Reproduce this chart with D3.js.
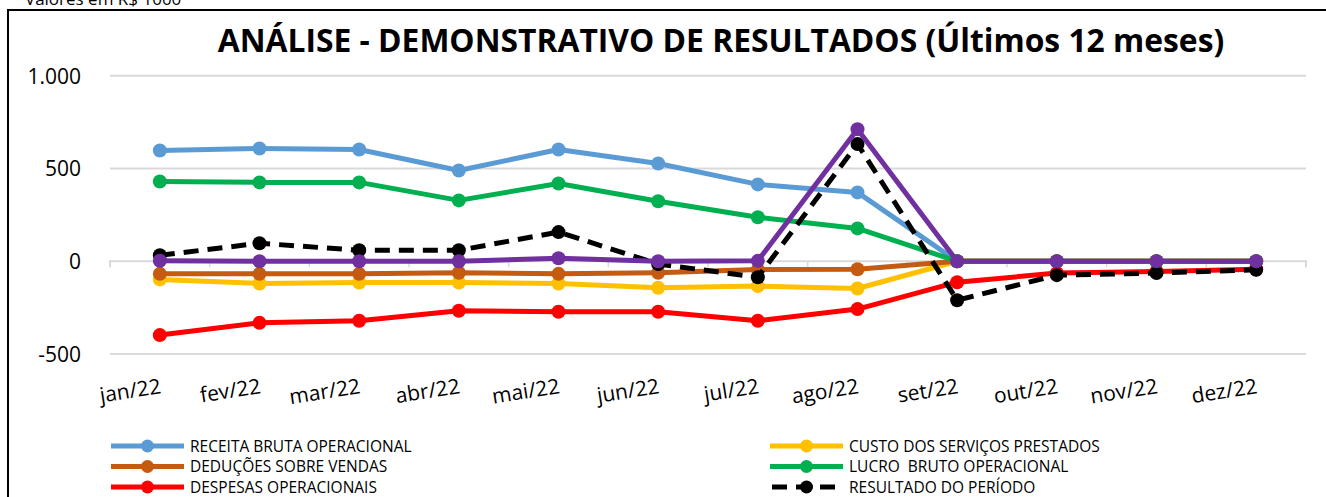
<!DOCTYPE html>
<html>
<head>
<meta charset="utf-8">
<script src="https://cdn.jsdelivr.net/npm/d3@7"></script>
<style>
  html, body { margin: 0; padding: 0; background: #fff; }
  svg { display: block; }
  text { font-family: "Open Sans", "Liberation Sans", sans-serif; fill: #000; white-space: pre; }
</style>
</head>
<body>
<svg id="chart" width="1326" height="497"></svg>
<script>
const months = ["jan/22","fev/22","mar/22","abr/22","mai/22","jun/22","jul/22","ago/22","set/22","out/22","nov/22","dez/22"];
const yTicks = [-500, 0, 500, 1000];

const receitaBruta   = [597, 608, 602, 489, 602, 527, 414, 371, 0, 0, 0, 0];
const custoServicos  = [-98, -120, -115, -115, -120, -143, -134, -147, 0, 0, 0, 0];
const deducoesVendas = [-68, -68, -68, -62, -68, -62, -45, -43, 0, 0, 0, 0];
const lucroBruto     = [430, 425, 425, 328, 419, 323, 237, 177, 0, 0, 0, 0];
const despesasOper   = [-398, -332, -321, -267, -272, -272, -321, -258, -113, -64, -55, -43];
const resultadoPer   = [32, 97, 59, 59, 157, -15, -86, 632, -210, -75, -64, -46];
const lucroLiquido   = [3, 0, 0, 0, 16, 0, 2, 712, 0, 0, 0, 0];

const seriesNames  = ["RECEITA BRUTA OPERACIONAL", "CUSTO DOS SERVIÇOS PRESTADOS", "DEDUÇÕES SOBRE VENDAS", "LUCRO  BRUTO OPERACIONAL", "DESPESAS OPERACIONAIS", "RESULTADO DO PERÍODO", "LUCRO LÍQUIDO"];
const seriesValues = [receitaBruta, custoServicos, deducoesVendas, lucroBruto, despesasOper, resultadoPer, lucroLiquido];
const seriesColors = ["#5B9BD5", "#FFC000", "#C55A11", "#00B050", "#FF0000", "#000000", "#7030A0"];
const seriesDashed = [false, false, false, false, false, true, false];

const svg = d3.select("#chart");

// outer border (chart area, extends past right/bottom edges)
svg.append("rect").attr("x", 8).attr("y", 10).attr("width", 1340).attr("height", 520)
  .attr("fill", "none").attr("stroke", "#000").attr("stroke-width", 2);

// caption above the chart (cut off in the reference too)
svg.append("text").attr("x", 25).attr("y", 5).attr("font-size", 17).attr("fill", "#000")
  .text("Valores em R$ 1000");

// title
const title = svg.append("text").attr("x", 721).attr("y", 52).attr("text-anchor", "middle")
  .attr("font-weight", "bold").attr("font-size", 32)
  .text("ANÁLISE - DEMONSTRATIVO DE RESULTADOS (Últimos 12 meses)");
{
  const w = title.node().getComputedTextLength();
  title.attr("font-size", 32 * 1007 / w);
}

const x = d3.scaleBand().domain(months).range([110, 1306]);
const y = d3.scaleLinear().domain([-500, 1000]).range([354, 75.7]);
const cx = m => x(m) + x.bandwidth() / 2;

// gridlines
svg.append("g").selectAll("line").data(yTicks.filter(t => t !== 0)).join("line")
  .attr("x1", 110).attr("x2", 1306).attr("y1", d => y(d)).attr("y2", d => y(d))
  .attr("stroke", "#D9D9D9").attr("stroke-width", 2);

// zero axis with ticks
const xAxis = d3.axisBottom(x).tickSize(6).tickFormat("");
const gx = svg.append("g").attr("transform", `translate(0,${y(0)})`).call(xAxis);
gx.select(".domain").attr("stroke", "#D9D9D9").attr("stroke-width", 2).attr("d", `M110,6V0H1306V6`);
gx.selectAll(".tick line").attr("stroke", "#D9D9D9").attr("stroke-width", 1.5)
  .attr("transform", `translate(${x.bandwidth() / 2},0)`);

// y tick labels
const yAxis = d3.axisLeft(y).tickValues(yTicks).tickSize(0).tickPadding(0)
  .tickFormat(d => d3.format(",")(d).replace(/,/g, ".").replace("\u2212", "-"));
const gy = svg.append("g").attr("transform", "translate(81,0)").call(yAxis);
gy.select(".domain").remove();
gy.selectAll("text").attr("font-size", 21).attr("font-family", "'Open Sans', sans-serif")
  .attr("fill", d => d < 0 ? "#FF0000" : "#000").attr("dy", "0.35em");

// x labels (rotated)
svg.append("g").selectAll("text").data(months).join("text")
  .attr("x", d => cx(d) + 2).attr("y", 393)
  .attr("text-anchor", "end").attr("font-size", 21)
  .attr("transform", d => `rotate(-9, ${cx(d) + 2}, 393)`)
  .text(d => d);

// lines
const line = d3.line().x((d, i) => cx(months[i])).y(d => y(d));
seriesValues.forEach((vals, k) => {
  const g = svg.append("g");
  g.append("path").datum(vals).attr("d", line)
    .attr("fill", "none").attr("stroke", seriesColors[k]).attr("stroke-width", 5)
    .attr("stroke-linejoin", "round")
    .attr("stroke-dasharray", seriesDashed[k] ? "15,9" : null);
  g.selectAll("circle").data(vals).join("circle")
    .attr("cx", (d, i) => cx(months[i])).attr("cy", d => y(d)).attr("r", 7)
    .attr("fill", seriesColors[k]);
});

// legend (first six series; two columns)
const legendOrder = [0, 2, 4, 1, 3, 5];
const legendRowsY = [446, 466.5, 487];
legendOrder.forEach((k, idx) => {
  const col = Math.floor(idx / 3), row = idx % 3;
  const x0 = col === 0 ? 111 : 770;
  const yy = legendRowsY[row];
  const g = svg.append("g");
  g.append("line").attr("x1", x0).attr("x2", x0 + 73).attr("y1", yy).attr("y2", yy)
    .attr("stroke", seriesColors[k]).attr("stroke-width", 5)
    .attr("stroke-dasharray", seriesDashed[k] ? "15,9" : null)
    .attr("stroke-dashoffset", seriesDashed[k] ? -2 : null);
  g.append("circle").attr("cx", x0 + 36.5).attr("cy", yy).attr("r", 6.5).attr("fill", seriesColors[k]);
  g.append("text").attr("x", x0 + 79).attr("y", yy).attr("dy", "0.36em")
    .attr("font-size", 15.5).attr("fill", "#262626").text(seriesNames[k]);
});
</script>
</body>
</html>
